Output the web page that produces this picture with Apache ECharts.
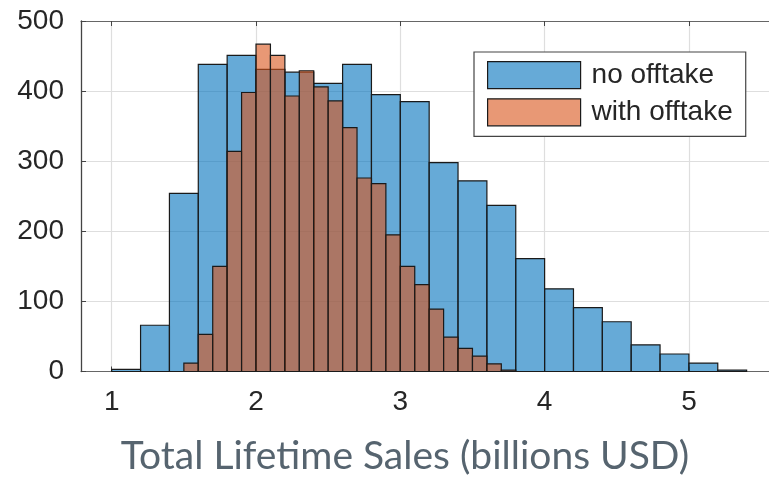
<!DOCTYPE html>
<html>
<head>
<meta charset="utf-8">
<script src="https://cdn.jsdelivr.net/npm/echarts@6/dist/echarts.min.js"></script>
<style>html,body{margin:0;padding:0;background:#fff}#c{width:769px;height:477px}</style>
</head>
<body>
<div id="c"></div>
<script>
// ---- data ----
const blueEdges = [1.0,1.2,1.4,1.6,1.8,2.0,2.2,2.4,2.6,2.8,3.0,3.2,3.4,3.6,3.8,4.0,4.2,4.4,4.6,4.8,5.0,5.2,5.4];
const blueCounts = [3,66,254,438,451,431,427,411,438,395,385,298,272,237,161,118,91,71,38,25,12,2];
const orangeEdges = [1.5,1.6,1.7,1.8,1.9,2.0,2.1,2.2,2.3,2.4,2.5,2.6,2.7,2.8,2.9,3.0,3.1,3.2,3.3,3.4,3.5,3.6,3.7,3.8];
const orangeCounts = [12,53,150,314,398,467,451,393,429,406,386,348,276,268,195,150,124,89,49,33,22,11,2];
const xTicks = [1,2,3,4,5];
const yTicks = [0,100,200,300,400,500];
const seriesNames = ['no offtake','with offtake'];
const xTitle = 'Total Lifetime Sales (billions USD)';

// ---- chart ----
const blueFill = 'rgba(0,114,189,0.6)';
const orangeFill = 'rgba(217,83,25,0.6)';
const edge = '#1a1a1a';

function toBins(edges, counts){
  return counts.map((c,i)=>[edges[i], edges[i+1], c]);
}
function makeRender(fill){
  return function(params, api){
    const p0 = api.coord([api.value(0), api.value(2)]);
    const p1 = api.coord([api.value(1), 0]);
    return {
      type:'rect',
      shape:{x:p0[0], y:p0[1], width:p1[0]-p0[0], height:p1[1]-p0[1]},
      style:{fill:fill, stroke:edge, lineWidth:1.2}
    };
  };
}

const xMin = 0.7872, xMax = 5.555;
const chart = echarts.init(document.getElementById('c'), null, {renderer:'canvas'});
chart.setOption({
  animation:false,
  backgroundColor:'#fff',
  grid:{left:81, right:0, top:21, bottom:105.5, containLabel:false},
  xAxis:[{
    type:'value', min:xMin, max:xMax, position:'bottom',
    axisLine:{show:true, onZero:false, lineStyle:{color:'#666', width:1.2}},
    axisTick:{show:true, inside:true, length:5, customValues:xTicks, lineStyle:{color:'#444'}},
    axisLabel:{show:true, customValues:xTicks, margin:17, fontFamily:'Liberation Sans', fontSize:28, color:'#262626'},
    splitLine:{show:true, lineStyle:{color:'#dedede', width:1.2}}
  },{
    type:'value', min:xMin, max:xMax, position:'top',
    axisLine:{show:true, onZero:false, lineStyle:{color:'#666', width:1.2}},
    axisTick:{show:true, inside:true, length:5, customValues:xTicks, lineStyle:{color:'#444'}},
    axisLabel:{show:false},
    splitLine:{show:false}
  }],
  yAxis:{
    type:'value', min:0, max:500, interval:100,
    axisLine:{show:true, lineStyle:{color:'#444', width:1.3}},
    axisTick:{show:true, inside:true, length:5, lineStyle:{color:'#444'}},
    axisLabel:{margin:17, fontFamily:'Liberation Sans', fontSize:28, color:'#262626',
      formatter:v=>yTicks.indexOf(v)>=0?String(v):''},
    splitLine:{show:true, lineStyle:{color:'#dedede', width:1.2}}
  },
  legend:{
    left:474, top:52, orient:'vertical',
    backgroundColor:'#fff', borderColor:'#444', borderWidth:1.2,
    padding:[9,13,10,13], itemGap:9, itemWidth:93, itemHeight:27,
    textStyle:{fontFamily:'Liberation Sans', fontSize:28, color:'#262626', padding:[0,0,0,6]},
    data:[
      {name:seriesNames[0], icon:'rect', itemStyle:{color:blueFill, borderColor:edge, borderWidth:1.2}},
      {name:seriesNames[1], icon:'rect', itemStyle:{color:orangeFill, borderColor:edge, borderWidth:1.2}}
    ]
  },
  graphic:[{
    type:'text', x:405, y:456,
    style:{text:xTitle, fontFamily:'Lato', fontSize:39, fill:'#56646f', align:'center', verticalAlign:'middle'}
  }],
  series:[{
    name:seriesNames[0], type:'custom', renderItem:makeRender(blueFill),
    itemStyle:{color:blueFill}, encode:{x:[0,1], y:2},
    data:toBins(blueEdges, blueCounts), z:2
  },{
    name:seriesNames[1], type:'custom', renderItem:makeRender(orangeFill),
    itemStyle:{color:orangeFill}, encode:{x:[0,1], y:2},
    data:toBins(orangeEdges, orangeCounts), z:3
  }]
});
</script>
</body>
</html>
